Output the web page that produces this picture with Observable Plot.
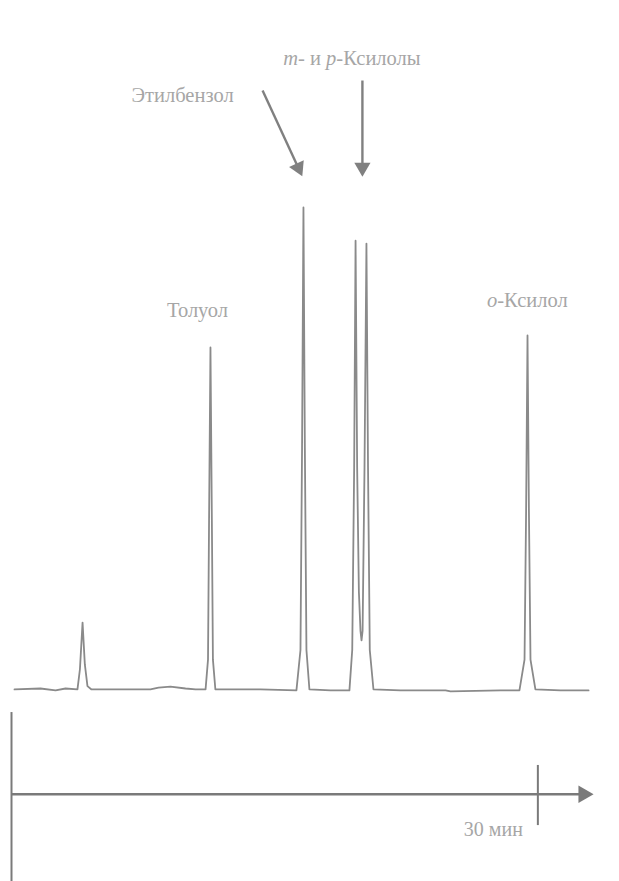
<!DOCTYPE html>
<html>
<head>
<meta charset="utf-8">
<script src="https://cdn.jsdelivr.net/npm/d3@7"></script>
<script src="https://cdn.jsdelivr.net/npm/@observablehq/plot@0.6"></script>
<style>
  html, body { margin: 0; padding: 0; background: #fff; }
  #chart svg { display: block; }
</style>
</head>
<body>
<div id="chart"></div>
<script>
// Chromatogram trace: retention time (min) and detector signal (arbitrary units, ethylbenzene apex = 100)
const traceTime   = [0.17, 1.65, 2.51, 3.08, 3.76, 3.90, 4.05, 4.18, 4.33, 4.56, 6.21, 7.92, 8.38, 9.06, 9.92, 10.49, 11.06, 11.20, 11.26, 11.34, 11.42, 11.48, 11.62, 14.19, 16.24, 16.47, 16.56, 16.64, 16.72, 16.81, 16.98, 18.18, 19.26, 19.42, 19.53, 19.61, 19.70, 19.80, 19.89, 19.95, 20.01, 20.12, 20.23, 20.32, 20.42, 20.63, 22.17, 24.74, 25.02, 27.87, 28.95, 29.24, 29.33, 29.41, 29.49, 29.58, 29.86, 31.29, 32.89];
const traceSignal = [-0.2, 0.0, -0.4, 0.0, -0.2, 4.0, 13.7, 5.0, 0.5, -0.2, -0.2, -0.2, 0.2, 0.4, 0.0, -0.2, -0.2, 6.0, 35.0, 70.9, 35.0, 6.0, -0.2, -0.2, -0.4, 8.0, 50.0, 100.0, 50.0, 8.0, -0.2, -0.4, -0.4, 8.0, 46.0, 93.1, 46.0, 20.0, 12.0, 10.0, 12.0, 46.0, 92.5, 46.0, 8.0, -0.2, -0.4, -0.4, -0.6, -0.4, -0.4, 6.0, 37.0, 73.4, 37.0, 6.0, -0.2, -0.4, -0.4];

// Peak labels
const labelText   = ["Этилбензол", "m- и p-Ксилолы", "Толуол", "o-Ксилол"];
const labelTime   = [9.75, 19.4, 10.6, 29.4];
const labelSignal = [123.3, 131.0, 78.6, 80.7];

// Pointer arrows (from label toward peak)
const arrowTime1   = [14.31, 20.0];
const arrowSignal1 = [124.3, 126.4];
const arrowTime2   = [16.47, 20.0];
const arrowSignal2 = [107.3, 107.3];

// Time axis
const axisStart = 0;
const axisEnd = 33;
const axisLevel = -22.0;
const tickValues = [30];
const tickLabels = ["30 мин"];
const tickLabelSignal = -29.3;
const tickTop = -16.0, tickBottom = -28.5;
const originTop = -5.0, originBottom = -40.2;

const xOpts = {domain: [0, 33], range: [11, 590]};
const yOpts = {domain: [0, 100], range: [688, 207]};
const xs = Plot.scale({x: xOpts});
const ys = Plot.scale({y: yOpts});

const trace = traceTime.map((t, i) => ({t, s: traceSignal[i]}));
const labels = labelText.map((text, i) => ({text, t: labelTime[i], s: labelSignal[i]}));
const arrows = arrowTime1.map((t, i) => {
  const dx = xs.apply(arrowTime2[i]) - xs.apply(t);
  const dy = ys.apply(arrowSignal2[i]) - ys.apply(arrowSignal1[i]);
  const len = Math.hypot(dx, dy);
  const ux = dx / len, uy = dy / len;
  // shorten shaft so the filled head caps it; head centre slightly back from tip
  const back = 6;
  return {
    t1: t, s1: arrowSignal1[i],
    t2: xs.invert(xs.apply(arrowTime2[i]) - ux * back),
    s2: ys.invert(ys.apply(arrowSignal2[i]) - uy * back),
    ht: xs.invert(xs.apply(arrowTime2[i]) - ux * 5),
    hs: ys.invert(ys.apply(arrowSignal2[i]) - uy * 5),
    rot: Math.atan2(ux, -uy) * 180 / Math.PI
  };
});
const ticks = tickValues.map((t, i) => ({t, label: tickLabels[i]}));

const ink = "#8a8a8a";
const axisInk = "#7a7a7a";
const textInk = "#a6a6a6";

const chart = Plot.plot({
  width: 619,
  height: 881,
  margin: 0,
  style: {background: "#fff", fontFamily: "'Liberation Serif', 'DejaVu Serif', serif"},
  x: {...xOpts, axis: null},
  y: {...yOpts, axis: null},
  marks: [
    // trace
    Plot.line(trace, {x: "t", y: "s", stroke: ink, strokeWidth: 1.8, strokeLinejoin: "round"}),
    // origin vertical line
    Plot.ruleX([axisStart], {y1: originTop, y2: originBottom, stroke: axisInk, strokeWidth: 2}),
    // time axis line with arrowhead
    Plot.ruleY([axisLevel], {x1: axisStart, x2: axisEnd - 0.55, stroke: axisInk, strokeWidth: 2.5}),
    Plot.dot([{t: axisEnd - 0.4, s: axisLevel}], {x: "t", y: "s", symbol: "triangle", rotate: 90, r: 6.5, fill: axisInk, stroke: "none"}),
    // 30 min tick
    Plot.ruleX(ticks, {x: "t", y1: tickTop, y2: tickBottom, stroke: axisInk, strokeWidth: 2}),
    Plot.text(ticks, {x: "t", y: tickLabelSignal, text: "label", textAnchor: "end", dx: -15, fill: textInk, fontSize: 20}),
    // pointer arrows: shaft + filled head
    Plot.link(arrows, {x1: "t1", y1: "s1", x2: "t2", y2: "s2", stroke: "#808080", strokeWidth: 2.4}),
    Plot.dot(arrows, {x: "ht", y: "hs", rotate: "rot", symbol: "triangle", r: 6, fill: "#808080", stroke: "none"}),
    // peak labels
    Plot.text(labels, {x: "t", y: "s", text: "text", fill: textInk, fontSize: 20.5})
  ]
});

// italicise single-letter Latin prefixes (m-, p-, o-)
chart.querySelectorAll("text").forEach(el => {
  const txt = el.textContent;
  if (/(^|\s)[a-z](?=-)/.test(txt) && el.children.length === 0) {
    el.innerHTML = txt.replace(/(^|\s)([a-z])(?=-)/g, '$1<tspan font-style="italic">$2</tspan>');
  }
});

document.getElementById("chart").appendChild(chart);
</script>
</body>
</html>
